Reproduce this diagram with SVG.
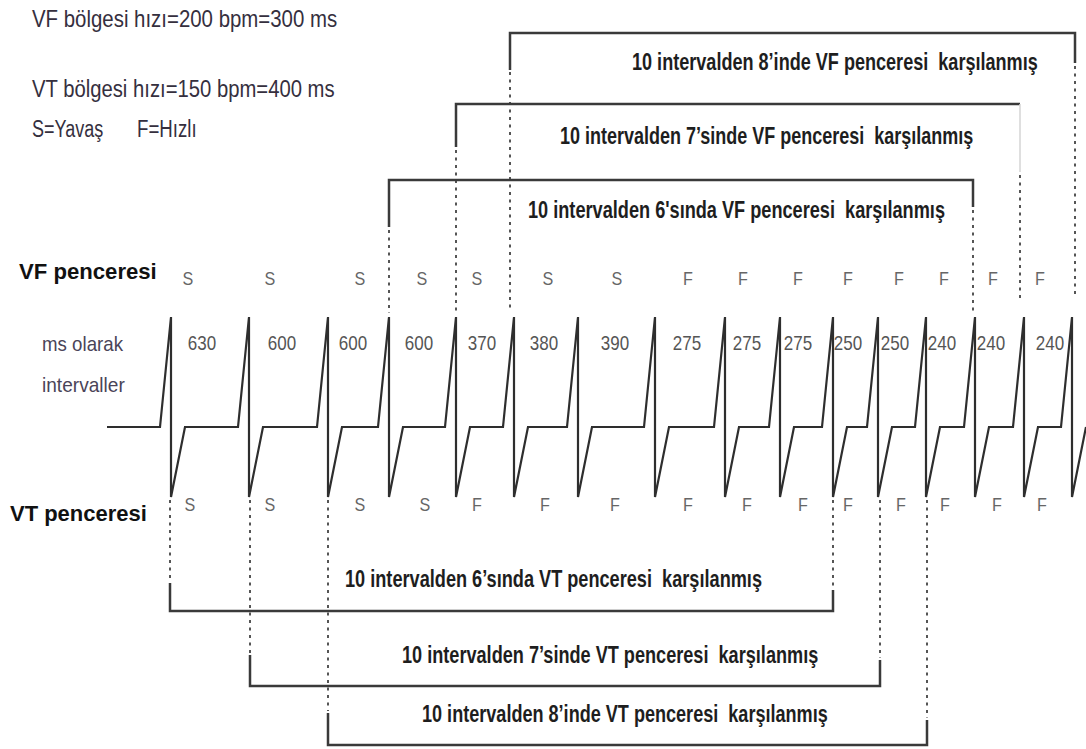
<svg xmlns="http://www.w3.org/2000/svg" width="1086" height="749" viewBox="0 0 1086 749">
<style>
.info{font-family:"Liberation Sans",Arial,sans-serif;font-size:23px;fill:#352f3e}
.side{font-family:"Liberation Sans",Arial,sans-serif;font-size:22px;font-weight:700;fill:#111}
.axis{font-family:"Liberation Sans",Arial,sans-serif;font-size:21px;fill:#4a4458}
.sf{font-family:"Liberation Sans",Arial,sans-serif;font-size:19px;fill:#666;text-anchor:middle}
.num{font-family:"Liberation Sans",Arial,sans-serif;font-size:20px;fill:#555;text-anchor:middle}
.blab{font-family:"Liberation Sans",Arial,sans-serif;font-size:24px;font-weight:700;fill:#1e1e1e;white-space:pre}
.ecg{fill:none;stroke:#2e2e2e;stroke-width:2.2;stroke-linejoin:miter}
.br{fill:none;stroke:#3a3a3a;stroke-width:2.5}
.dot{fill:none;stroke:#555;stroke-width:2;stroke-dasharray:3 4.5}
.faint{fill:none;stroke:#d4d4d4;stroke-width:1.5}
</style>

<g id="legend">
<text class="info" transform="translate(32,27) scale(0.895,1)" textLength="341" lengthAdjust="spacingAndGlyphs">VF bölgesi hızı=200 bpm=300 ms</text>
<text class="info" transform="translate(32,97) scale(0.89,1)" textLength="340" lengthAdjust="spacingAndGlyphs">VT bölgesi hızı=150 bpm=400 ms</text>
<text class="info" transform="translate(32,137) scale(0.89,1)" textLength="80" lengthAdjust="spacingAndGlyphs">S=Yavaş</text>
<text class="info" transform="translate(137,137) scale(0.89,1)" textLength="67" lengthAdjust="spacingAndGlyphs">F=Hızlı</text>
</g>

<g id="row-labels">
<text id="vf-label" class="side" transform="translate(19,279) scale(0.95,1)" textLength="145" lengthAdjust="spacingAndGlyphs">VF penceresi</text>
<text class="axis" transform="translate(42,351) scale(0.9,1)" textLength="90" lengthAdjust="spacingAndGlyphs">ms olarak</text>
<text class="axis" transform="translate(42,392) scale(0.9,1)" textLength="92" lengthAdjust="spacingAndGlyphs">intervaller</text>
<text id="vt-label" class="side" transform="translate(10,521) scale(0.95,1)" textLength="144" lengthAdjust="spacingAndGlyphs">VT penceresi</text>
</g>

<g id="ecg">
<path class="ecg" d="M107,427 L160,427 L171,317 L171,497 L185,427 L238,427 L249,317 L249,497 L263,427 L317,427 L328,317 L328,497 L342,427 L378,427 L389,317 L389,497 L403,427 L445,427 L456,317 L456,497 L470,427 L503,427 L514,317 L514,497 L528,427 L567,427 L578,317 L578,497 L592,427 L644,427 L655,317 L655,497 L669,427 L714,427 L725,317 L725,497 L739,427 L769,427 L780,317 L780,497 L794,427 L822,427 L833,317 L833,497 L847,427 L867,427 L878,317 L878,497 L892,427 L915,427 L926,317 L926,497 L940,427 L964,427 L975,317 L975,497 L989,427 L1013,427 L1024,317 L1024,497 L1038,427 L1061,427 L1072,317 L1072,497 L1086,427"/>
</g>

<g id="intervals">
<text class="num" transform="translate(202,350) scale(0.85,1)">630</text>
<text class="num" transform="translate(282,350) scale(0.85,1)">600</text>
<text class="num" transform="translate(353,350) scale(0.85,1)">600</text>
<text class="num" transform="translate(419,350) scale(0.85,1)">600</text>
<text class="num" transform="translate(482,350) scale(0.85,1)">370</text>
<text class="num" transform="translate(544,350) scale(0.85,1)">380</text>
<text class="num" transform="translate(615,350) scale(0.85,1)">390</text>
<text class="num" transform="translate(687,350) scale(0.85,1)">275</text>
<text class="num" transform="translate(747,350) scale(0.85,1)">275</text>
<text class="num" transform="translate(798,350) scale(0.85,1)">275</text>
<text class="num" transform="translate(848,350) scale(0.85,1)">250</text>
<text class="num" transform="translate(895,350) scale(0.85,1)">250</text>
<text class="num" transform="translate(942,350) scale(0.85,1)">240</text>
<text class="num" transform="translate(991,350) scale(0.85,1)">240</text>
<text class="num" transform="translate(1050,350) scale(0.85,1)">240</text>
</g>

<g id="vf-marks">
<text class="sf" transform="translate(188,285) scale(0.85,1)">S</text>
<text class="sf" transform="translate(270,285) scale(0.85,1)">S</text>
<text class="sf" transform="translate(360,285) scale(0.85,1)">S</text>
<text class="sf" transform="translate(422,285) scale(0.85,1)">S</text>
<text class="sf" transform="translate(477,285) scale(0.85,1)">S</text>
<text class="sf" transform="translate(548,285) scale(0.85,1)">S</text>
<text class="sf" transform="translate(617,285) scale(0.85,1)">S</text>
<text class="sf" transform="translate(688,285) scale(0.85,1)">F</text>
<text class="sf" transform="translate(743,285) scale(0.85,1)">F</text>
<text class="sf" transform="translate(798,285) scale(0.85,1)">F</text>
<text class="sf" transform="translate(848,285) scale(0.85,1)">F</text>
<text class="sf" transform="translate(899,285) scale(0.85,1)">F</text>
<text class="sf" transform="translate(944,285) scale(0.85,1)">F</text>
<text class="sf" transform="translate(993,285) scale(0.85,1)">F</text>
<text class="sf" transform="translate(1040,285) scale(0.85,1)">F</text>
</g>

<g id="vt-marks">
<text class="sf" transform="translate(190,511) scale(0.85,1)">S</text>
<text class="sf" transform="translate(270,511) scale(0.85,1)">S</text>
<text class="sf" transform="translate(360,511) scale(0.85,1)">S</text>
<text class="sf" transform="translate(425,511) scale(0.85,1)">S</text>
<text class="sf" transform="translate(477,511) scale(0.85,1)">F</text>
<text class="sf" transform="translate(545,511) scale(0.85,1)">F</text>
<text class="sf" transform="translate(615,511) scale(0.85,1)">F</text>
<text class="sf" transform="translate(688,511) scale(0.85,1)">F</text>
<text class="sf" transform="translate(747,511) scale(0.85,1)">F</text>
<text class="sf" transform="translate(803,511) scale(0.85,1)">F</text>
<text class="sf" transform="translate(848,511) scale(0.85,1)">F</text>
<text class="sf" transform="translate(901,511) scale(0.85,1)">F</text>
<text class="sf" transform="translate(945,511) scale(0.85,1)">F</text>
<text class="sf" transform="translate(997,511) scale(0.85,1)">F</text>
<text class="sf" transform="translate(1042,511) scale(0.85,1)">F</text>
</g>

<g id="connectors">
<path class="br" d="M510,70 L510,33 L1075,33 L1075,63"/>
<path class="dot" d="M510,72 L510,312 M1075,66 L1075,295"/>
<path class="br" d="M456,147 L456,104 L1020,104"/>
<path class="faint" d="M1020,104 L1020,172"/>
<path class="dot" d="M456,150 L456,313 M1020,175 L1020,300"/>
<path class="br" d="M389,227 L389,180 L973,180 L973,207"/>
<path class="dot" d="M389,230 L389,313 M973,210 L973,312"/>
<path class="dot" d="M170,500 L170,581 M833,500 L833,588"/>
<path class="br" d="M170,583 L170,611 L833,611 L833,590"/>
<path class="dot" d="M250,500 L250,653 M880,500 L880,658"/>
<path class="br" d="M250,655 L250,686 L880,686 L880,660"/>
<path class="dot" d="M328,500 L328,711 M927,500 L927,718"/>
<path class="br" d="M328,713 L328,745 L927,745 L927,720"/>
</g>

<g id="window-labels">
<text class="blab" transform="translate(632,70) scale(0.75,1)" textLength="541" lengthAdjust="spacingAndGlyphs">10 intervalden 8’inde VF penceresi  karşılanmış</text>
<text class="blab" transform="translate(560,144) scale(0.75,1)" textLength="551" lengthAdjust="spacingAndGlyphs">10 intervalden 7’sinde VF penceresi  karşılanmış</text>
<text class="blab" transform="translate(528,218) scale(0.75,1)" textLength="556" lengthAdjust="spacingAndGlyphs">10 intervalden 6'sında VF penceresi  karşılanmış</text>
<text class="blab" transform="translate(345,587) scale(0.75,1)" textLength="556" lengthAdjust="spacingAndGlyphs">10 intervalden 6’sında VT penceresi  karşılanmış</text>
<text class="blab" transform="translate(402,663) scale(0.75,1)" textLength="555" lengthAdjust="spacingAndGlyphs">10 intervalden 7’sinde VT penceresi  karşılanmış</text>
<text class="blab" transform="translate(422,722) scale(0.75,1)" textLength="541" lengthAdjust="spacingAndGlyphs">10 intervalden 8’inde VT penceresi  karşılanmış</text>
</g>
</svg>
